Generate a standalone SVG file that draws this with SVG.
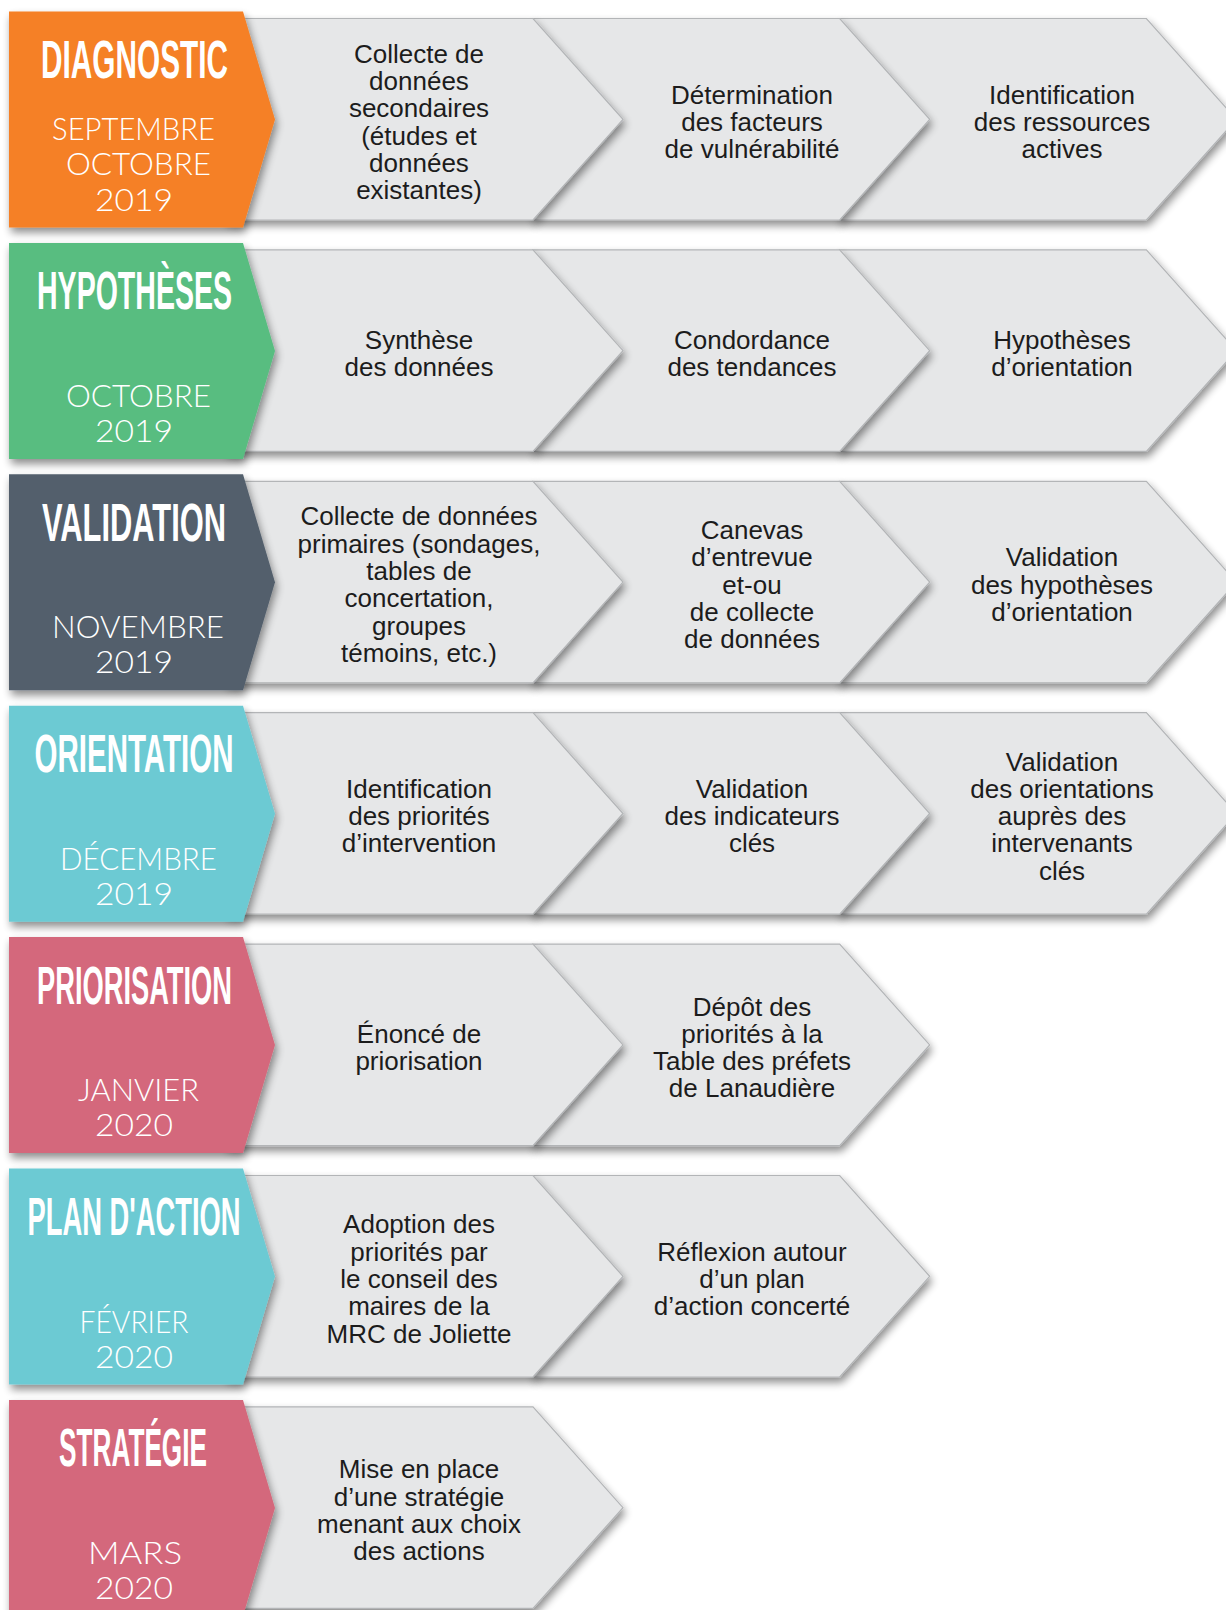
<svg xmlns="http://www.w3.org/2000/svg" xmlns:xlink="http://www.w3.org/1999/xlink" width="1226" height="1610" viewBox="0 0 1226 1610">
<defs>
<filter id="sh" x="-10%" y="-10%" width="125%" height="130%">
<feGaussianBlur in="SourceAlpha" stdDeviation="4"/>
<feOffset dx="2" dy="5" result="b"/>
<feComponentTransfer><feFuncA type="linear" slope="0.45"/></feComponentTransfer>
<feMerge><feMergeNode/><feMergeNode in="SourceGraphic"/></feMerge>
</filter>
<polygon id="chev" points="-307,7 0,7 90,107.8 0,208.5 -307,208.5"/>
<polygon id="panel" points="9,0 243,0 275,108 243,216 9,216"/>
<style>
.ch{fill:#e6e7e8;stroke:#b3b5b7;stroke-width:1.2;filter:url(#sh)}
.pn{filter:url(#sh)}
.t{font-family:"Liberation Sans",Arial,sans-serif;font-weight:700;font-size:53px;fill:#fff}
.d{font-family:Lato,"Liberation Sans",Arial,sans-serif;font-weight:300;font-size:31px;fill:#fff}
.b{font-family:"Liberation Sans",Arial,sans-serif;font-size:26px;fill:#1c1c1c;text-anchor:middle}
</style>
</defs>
<rect width="1226" height="1610" fill="#fff"/>
<g id="connectors"/>

<!-- Row 1 -->
<g id="row-diagnostic" transform="translate(0,11.5)">
<g id="diag-3"><use href="#chev" x="1146.4" class="ch"/><text class="b" y="92.15"><tspan x="1062">Identification</tspan><tspan x="1062" dy="27.3">des ressources</tspan><tspan x="1062" dy="27.3">actives</tspan></text></g>
<g id="diag-2"><use href="#chev" x="839.7" class="ch"/><text class="b" y="92.15"><tspan x="752">Détermination</tspan><tspan x="752" dy="27.3">des facteurs</tspan><tspan x="752" dy="27.3">de vulnérabilité</tspan></text></g>
<g id="diag-1"><use href="#chev" x="533" class="ch"/><text class="b" y="51.2"><tspan x="419">Collecte de</tspan><tspan x="419" dy="27.3">données</tspan><tspan x="419" dy="27.3">secondaires</tspan><tspan x="419" dy="27.3">(études et</tspan><tspan x="419" dy="27.3">données</tspan><tspan x="419" dy="27.3">existantes)</tspan></text></g>
<g id="diagnostic"><use href="#panel" fill="#f58025" class="pn"/>
<text class="t" x="41" y="66.5" textLength="187" lengthAdjust="spacingAndGlyphs">DIAGNOSTIC</text>
<text class="d" x="52" y="128.5" textLength="163" lengthAdjust="spacingAndGlyphs">SEPTEMBRE</text>
<text class="d" x="66" y="163.5" textLength="145" lengthAdjust="spacingAndGlyphs">OCTOBRE</text>
<text class="d" x="95" y="199" textLength="78" lengthAdjust="spacingAndGlyphs">2019</text></g>
</g>

<!-- Row 2 -->
<g id="row-hypotheses" transform="translate(0,242.9)">
<g id="hyp-3"><use href="#chev" x="1146.4" class="ch"/><text class="b" y="105.8"><tspan x="1062">Hypothèses</tspan><tspan x="1062" dy="27.3">d’orientation</tspan></text></g>
<g id="hyp-2"><use href="#chev" x="839.7" class="ch"/><text class="b" y="105.8"><tspan x="752">Condordance</tspan><tspan x="752" dy="27.3">des tendances</tspan></text></g>
<g id="hyp-1"><use href="#chev" x="533" class="ch"/><text class="b" y="105.8"><tspan x="419">Synthèse</tspan><tspan x="419" dy="27.3">des données</tspan></text></g>
<g id="hypotheses"><use href="#panel" fill="#58bd80" class="pn"/>
<text class="t" x="37" y="66.5" textLength="195" lengthAdjust="spacingAndGlyphs">HYPOTHÈSES</text>
<text class="d" x="66" y="164" textLength="145" lengthAdjust="spacingAndGlyphs">OCTOBRE</text>
<text class="d" x="95" y="199" textLength="78" lengthAdjust="spacingAndGlyphs">2019</text></g>
</g>

<!-- Row 3 -->
<g id="row-validation" transform="translate(0,474.3)">
<g id="val-3"><use href="#chev" x="1146.4" class="ch"/><text class="b" y="92.15"><tspan x="1062">Validation</tspan><tspan x="1062" dy="27.3">des hypothèses</tspan><tspan x="1062" dy="27.3">d’orientation</tspan></text></g>
<g id="val-2"><use href="#chev" x="839.7" class="ch"/><text class="b" y="64.85"><tspan x="752">Canevas</tspan><tspan x="752" dy="27.3">d’entrevue</tspan><tspan x="752" dy="27.3">et-ou</tspan><tspan x="752" dy="27.3">de collecte</tspan><tspan x="752" dy="27.3">de données</tspan></text></g>
<g id="val-1"><use href="#chev" x="533" class="ch"/><text class="b" y="51.2"><tspan x="419">Collecte de données</tspan><tspan x="419" dy="27.3">primaires (sondages,</tspan><tspan x="419" dy="27.3">tables de</tspan><tspan x="419" dy="27.3">concertation,</tspan><tspan x="419" dy="27.3">groupes</tspan><tspan x="419" dy="27.3">témoins, etc.)</tspan></text></g>
<g id="validation"><use href="#panel" fill="#525f6c" class="pn"/>
<text class="t" x="42" y="66.5" textLength="184" lengthAdjust="spacingAndGlyphs">VALIDATION</text>
<text class="d" x="52" y="164" textLength="172" lengthAdjust="spacingAndGlyphs">NOVEMBRE</text>
<text class="d" x="95" y="199" textLength="78" lengthAdjust="spacingAndGlyphs">2019</text></g>
</g>

<!-- Row 4 -->
<g id="row-orientation" transform="translate(0,705.7)">
<g id="ori-3"><use href="#chev" x="1146.4" class="ch"/><text class="b" y="64.85"><tspan x="1062">Validation</tspan><tspan x="1062" dy="27.3">des orientations</tspan><tspan x="1062" dy="27.3">auprès des</tspan><tspan x="1062" dy="27.3">intervenants</tspan><tspan x="1062" dy="27.3">clés</tspan></text></g>
<g id="ori-2"><use href="#chev" x="839.7" class="ch"/><text class="b" y="92.15"><tspan x="752">Validation</tspan><tspan x="752" dy="27.3">des indicateurs</tspan><tspan x="752" dy="27.3">clés</tspan></text></g>
<g id="ori-1"><use href="#chev" x="533" class="ch"/><text class="b" y="92.15"><tspan x="419">Identification</tspan><tspan x="419" dy="27.3">des priorités</tspan><tspan x="419" dy="27.3">d’intervention</tspan></text></g>
<g id="orientation"><use href="#panel" fill="#6ccad3" class="pn"/>
<text class="t" x="34.5" y="66.5" textLength="199" lengthAdjust="spacingAndGlyphs">ORIENTATION</text>
<text class="d" x="60" y="164" textLength="157" lengthAdjust="spacingAndGlyphs">DÉCEMBRE</text>
<text class="d" x="95" y="199" textLength="78" lengthAdjust="spacingAndGlyphs">2019</text></g>
</g>

<!-- Row 5 -->
<g id="row-priorisation" transform="translate(0,937.1)">
<g id="pri-2"><use href="#chev" x="839.7" class="ch"/><text class="b" y="78.5"><tspan x="752">Dépôt des</tspan><tspan x="752" dy="27.3">priorités à la</tspan><tspan x="752" dy="27.3">Table des préfets</tspan><tspan x="752" dy="27.3">de Lanaudière</tspan></text></g>
<g id="pri-1"><use href="#chev" x="533" class="ch"/><text class="b" y="105.8"><tspan x="419">Énoncé de</tspan><tspan x="419" dy="27.3">priorisation</tspan></text></g>
<g id="priorisation"><use href="#panel" fill="#d4687b" class="pn"/>
<text class="t" x="37" y="66.5" textLength="195" lengthAdjust="spacingAndGlyphs">PRIORISATION</text>
<text class="d" x="78" y="164" textLength="121" lengthAdjust="spacingAndGlyphs">JANVIER</text>
<text class="d" x="95" y="199" textLength="78" lengthAdjust="spacingAndGlyphs">2020</text></g>
</g>

<!-- Row 6 -->
<g id="row-plan" transform="translate(0,1168.5)">
<g id="plan-2"><use href="#chev" x="839.7" class="ch"/><text class="b" y="92.15"><tspan x="752">Réflexion autour</tspan><tspan x="752" dy="27.3">d’un plan</tspan><tspan x="752" dy="27.3">d’action concerté</tspan></text></g>
<g id="plan-1"><use href="#chev" x="533" class="ch"/><text class="b" y="64.85"><tspan x="419">Adoption des</tspan><tspan x="419" dy="27.3">priorités par</tspan><tspan x="419" dy="27.3">le conseil des</tspan><tspan x="419" dy="27.3">maires de la</tspan><tspan x="419" dy="27.3">MRC de Joliette</tspan></text></g>
<g id="plan-action"><use href="#panel" fill="#6ccad3" class="pn"/>
<text class="t" x="27.5" y="66.5" textLength="213" lengthAdjust="spacingAndGlyphs">PLAN D'ACTION</text>
<text class="d" x="79.5" y="164" textLength="109" lengthAdjust="spacingAndGlyphs">FÉVRIER</text>
<text class="d" x="95" y="199" textLength="78" lengthAdjust="spacingAndGlyphs">2020</text></g>
</g>

<!-- Row 7 -->
<g id="row-strategie" transform="translate(0,1399.9)">
<g id="strat-1"><use href="#chev" x="533" class="ch"/><text class="b" y="78.5"><tspan x="419">Mise en place</tspan><tspan x="419" dy="27.3">d’une stratégie</tspan><tspan x="419" dy="27.3">menant aux choix</tspan><tspan x="419" dy="27.3">des actions</tspan></text></g>
<g id="strategie"><use href="#panel" fill="#d4687b" class="pn"/>
<text class="t" x="59" y="66.5" textLength="148" lengthAdjust="spacingAndGlyphs">STRATÉGIE</text>
<text class="d" x="88" y="164" textLength="94" lengthAdjust="spacingAndGlyphs">MARS</text>
<text class="d" x="95" y="199" textLength="78" lengthAdjust="spacingAndGlyphs">2020</text></g>
</g>
</svg>
